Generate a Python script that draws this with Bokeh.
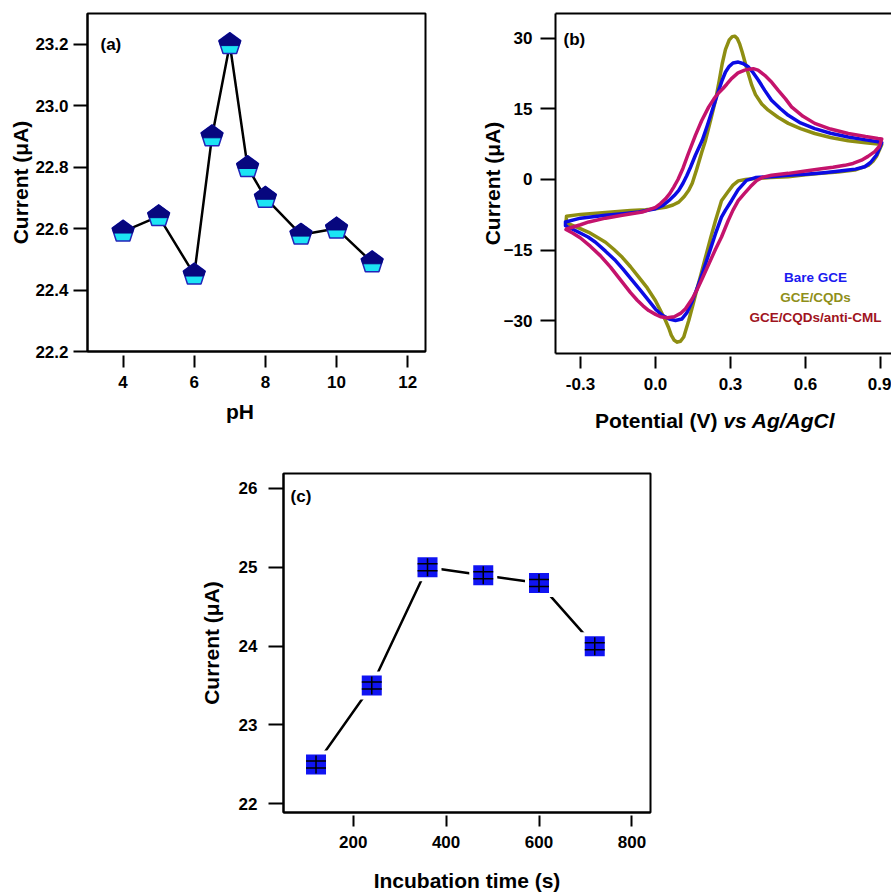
import math

from bokeh.embed import file_html
from bokeh.layouts import column, row
from bokeh.models import (Div, FixedTicker, Label, LinearAxis, PrintfTickFormatter,
                          Range1d, Spacer)
from bokeh.plotting import figure
from bokeh.resources import INLINE

FONT = "Liberation Sans"

# ---------------- (a) current vs pH ----------------
ph = [4, 5, 6, 6.5, 7, 7.5, 8, 9, 10, 11]
ph_current = [22.59, 22.64, 22.45, 22.90, 23.20, 22.80, 22.70, 22.58, 22.60, 22.49]
ph_ticks = [4, 6, 8, 10, 12]
ph_current_ticks = [22.2, 22.4, 22.6, 22.8, 23.0, 23.2]

# ---------------- (b) cyclic voltammograms ----------------
# forward (anodic) and reverse (cathodic) sweeps, potential in V, current in uA
bare_fwd_v = [-0.36, -0.30, -0.20, -0.12, -0.067, 0.0, 0.03, 0.053, 0.075, 0.093, 0.11, 0.125,
              0.14, 0.16, 0.187, 0.207, 0.227, 0.247, 0.267, 0.28, 0.295, 0.31, 0.331, 0.35,
              0.371, 0.39, 0.411, 0.437, 0.464, 0.50, 0.531, 0.58, 0.637, 0.70, 0.771, 0.84,
              0.89, 0.905]
bare_fwd_i = [-9.0, -8.2, -7.6, -7.2, -6.9, -6.2, -5.5, -4.5, -3.4, -2.3, -0.8, 0.8,
              2.6, 5.2, 8.3, 11.4, 14.7, 18.0, 21.1, 22.8, 24.0, 24.7, 24.9, 24.6,
              23.9, 22.7, 21.1, 18.9, 16.8, 15.0, 13.6, 12.0, 10.8, 9.8, 9.0, 8.4,
              8.0, 7.8]
bare_rev_v = [0.895, 0.884, 0.86, 0.837, 0.80, 0.771, 0.72, 0.664, 0.60, 0.531, 0.46, 0.40,
              0.364, 0.33, 0.304, 0.28, 0.264, 0.24, 0.215, 0.19, 0.167, 0.147, 0.125, 0.105,
              0.08, 0.055, 0.027, 0.0, -0.027, -0.06, -0.093, -0.13, -0.16, -0.20, -0.24,
              -0.27, -0.307, -0.36]
bare_rev_i = [6.5, 5.2, 3.6, 2.7, 2.2, 2.0, 1.7, 1.4, 1.1, 0.9, 0.6, 0.4,
              -0.2, -2.2, -4.5, -6.5, -8.0, -11.5, -15.5, -19.5, -23.0, -25.8, -28.3, -29.6,
              -29.9, -29.6, -28.8, -27.5, -25.7, -23.5, -21.4, -19.0, -17.2, -15.2, -13.3,
              -12.2, -11.2, -9.8]

cqd_fwd_v = [-0.356, -0.30, -0.20, -0.10, -0.04, 0.0, 0.04, 0.07, 0.093, 0.115, 0.133, 0.147,
             0.165, 0.185, 0.20, 0.22, 0.24, 0.255, 0.267, 0.28, 0.295, 0.307, 0.317, 0.327,
             0.337, 0.347, 0.36, 0.371, 0.385, 0.40, 0.425, 0.451, 0.49, 0.531, 0.58, 0.637,
             0.70, 0.771, 0.84, 0.89, 0.905]
cqd_fwd_i = [-7.8, -7.4, -7.0, -6.6, -6.4, -6.2, -5.9, -5.4, -4.8, -3.6, -2.3, -0.8,
             2.2, 5.8, 8.3, 12.5, 16.8, 21.0, 24.6, 27.6, 29.6, 30.3, 30.4, 29.9,
             28.7, 27.0, 24.5, 22.5, 20.0, 18.0, 16.0, 14.7, 13.2, 11.9, 10.8, 9.75,
             8.9, 8.2, 7.8, 7.5, 7.4]
cqd_rev_v = [0.895, 0.885, 0.87, 0.851, 0.82, 0.797, 0.73, 0.664, 0.60, 0.531, 0.46, 0.40,
             0.36, 0.331, 0.31, 0.29, 0.264, 0.24, 0.22, 0.20, 0.18, 0.167, 0.15, 0.133,
             0.122, 0.113, 0.10, 0.087, 0.075, 0.063, 0.053, 0.04, 0.02, 0.0, -0.033, -0.067,
             -0.10, -0.133, -0.167, -0.20, -0.235, -0.267, -0.31, -0.347, -0.358]
cqd_rev_i = [6.2, 5.0, 3.9, 3.0, 2.4, 2.0, 1.6, 1.3, 1.0, 0.6, 0.4, 0.2,
             0.0, -0.3, -1.2, -2.6, -4.5, -8.7, -12.5, -16.5, -20.5, -23.0, -26.5, -29.9,
             -31.8, -33.4, -34.3, -34.5, -34.1, -33.0, -31.5, -29.9, -27.8, -25.7, -23.0, -20.7,
             -18.5, -16.5, -14.8, -13.3, -12.2, -11.2, -10.2, -9.4, -9.1]

cml_fwd_v = [-0.356, -0.30, -0.267, -0.20, -0.133, -0.053, 0.0, 0.02, 0.04, 0.057, 0.073, 0.09,
             0.11, 0.13, 0.16, 0.185, 0.213, 0.235, 0.253, 0.27, 0.285, 0.304, 0.33, 0.357,
             0.375, 0.391, 0.41, 0.437, 0.465, 0.491, 0.52, 0.544, 0.59, 0.637, 0.70, 0.771,
             0.84, 0.89, 0.905]
cml_fwd_i = [-10.5, -9.6, -9.0, -8.2, -7.6, -6.9, -5.9, -5.1, -4.1, -3.0, -1.6, 0.0,
             2.4, 5.3, 9.4, 12.5, 15.4, 17.2, 18.4, 19.3, 20.2, 21.4, 22.6, 23.2,
             23.4, 23.5, 23.2, 22.1, 20.6, 18.9, 17.1, 15.4, 13.4, 11.9, 10.7, 9.75,
             9.1, 8.7, 8.6]
cml_rev_v = [0.895, 0.877, 0.85, 0.824, 0.79, 0.757, 0.71, 0.664, 0.60, 0.531, 0.464, 0.43,
             0.405, 0.38, 0.355, 0.331, 0.31, 0.291, 0.264, 0.24, 0.21, 0.187, 0.167, 0.147,
             0.12, 0.10, 0.075, 0.047, 0.02, 0.0, -0.027, -0.05, -0.073, -0.10, -0.14, -0.18,
             -0.22, -0.26, -0.30, -0.33, -0.358]
cml_rev_i = [7.0, 5.9, 4.9, 4.1, 3.4, 3.0, 2.6, 2.3, 1.8, 1.3, 0.9, 0.5,
             -0.2, -1.5, -3.0, -4.5, -6.5, -8.7, -12.2, -14.8, -18.3, -21.0, -23.3, -25.3,
             -27.4, -28.4, -29.1, -29.3, -29.1, -28.6, -27.8, -26.8, -25.6, -24.0, -21.3, -18.6,
             -16.2, -14.2, -12.4, -11.4, -10.6]

cv_names = ["Bare GCE", "GCE/CQDs", "GCE/CQDs/anti-CML"]
potential_ticks = [-0.3, 0.0, 0.3, 0.6, 0.9]
cv_current_ticks = [-30, -15, 0, 15, 30]

# ---------------- (c) current vs incubation time ----------------
inc_time = [120, 240, 360, 480, 600, 720]
inc_current = [22.5, 23.5, 25.0, 24.9, 24.8, 24.0]
time_ticks = [200, 400, 600, 800]
inc_current_ticks = [22, 23, 24, 25, 26]


def style_axis(ax, tick_in, tick_out, standoff, ticks, fmt=None, label=None, label_standoff=0):
    ax.ticker = FixedTicker(ticks=ticks)
    if fmt:
        ax.formatter = PrintfTickFormatter(format=fmt)
    ax.major_tick_in = tick_in
    ax.major_tick_out = tick_out
    ax.major_tick_line_width = 2
    ax.major_tick_line_color = "black"
    ax.minor_tick_line_color = None
    ax.axis_line_width = 2
    ax.axis_line_color = "black"
    ax.major_label_text_font = FONT
    ax.major_label_text_font_style = "bold"
    ax.major_label_text_font_size = "17px"
    ax.major_label_text_color = "black"
    ax.major_label_standoff = standoff
    if label:
        ax.axis_label = label
        ax.axis_label_text_font = FONT
        ax.axis_label_text_font_style = "bold"
        ax.axis_label_text_font_size = "21px"
        ax.axis_label_text_color = "black"
        ax.axis_label_standoff = label_standoff


def make_fig(xr, yr, fw, fh, left, right, top, bottom):
    p = figure(x_range=Range1d(*xr), y_range=Range1d(*yr),
               frame_width=fw, frame_height=fh,
               min_border_left=left, min_border_right=right,
               min_border_top=top, min_border_bottom=bottom,
               output_backend="svg", toolbar_location=None,
               background_fill_color="white", border_fill_color="white")
    p.xgrid.visible = False
    p.ygrid.visible = False
    return p


def text(p, x, y, s, size, color="black", align="center"):
    p.add_layout(Label(x=x, y=y, text=s, text_font=FONT, text_font_size=size,
                       text_font_style="bold", text_color=color, text_align=align,
                       text_baseline="middle"))


def title_div(html, width, height, left, top):
    style = (f"font-family:'{FONT}';font-weight:bold;font-size:21px;line-height:24px;"
             f"color:black;padding-left:{left}px;padding-top:{top}px;white-space:nowrap;")
    return Div(text=f'<div style="{style}">{html}</div>', width=width, height=height,
               margin=(0, 0, 0, 0))


# ================= panel (a) =================
AX, AY = (3.0, 12.5), (22.2, 23.3)
AFW, AFH = 338, 338
pa = make_fig(AX, AY, AFW, AFH, 87, 15, 13, 47)
pa.outline_line_color = "black"
pa.outline_line_width = 2
style_axis(pa.xaxis[0], -4, 16, 8, ph_ticks)
style_axis(pa.yaxis[0], 0, 14, 5, ph_current_ticks, "%.1f", "Current (μA)", 0)

pa.line(ph, ph_current, line_color="black", line_width=2.5)

# pentagon symbols: navy cap over a cyan body
sx = AFW / (AX[1] - AX[0])
sy = AFH / (AY[1] - AY[0])
R = 11.5
body = [(math.cos(math.pi / 2 + k * 2 * math.pi / 5), math.sin(math.pi / 2 + k * 2 * math.pi / 5))
        for k in range(5)]
cap = [(0.0, 1.0), (-0.951, 0.309), (-0.812, -0.12), (0.812, -0.12), (0.951, 0.309)]
body_xs = [[x + R * u / sx for u, _ in body] for x in ph]
body_ys = [[y + R * v / sy for _, v in body] for y in ph_current]
cap_xs = [[x + R * u / sx for u, _ in cap] for x in ph]
cap_ys = [[y + R * v / sy for _, v in cap] for y in ph_current]
pa.patches(body_xs, body_ys, fill_color="#1CE4F4", line_color="#2323B8", line_width=1.5)
pa.patches(cap_xs, cap_ys, fill_color="#07077E", line_color="#07077E", line_width=1)

text(pa, 3.365, 23.2, "(a)", "17px", align="left")
title_a = title_div("pH", 440, 42, 226, 2)

# ================= panel (b) =================
BX, BY = (-0.4, 0.944), (-36.9, 35.2)
pb = make_fig(BX, BY, 336, 340, 115, 0, 13, 47)
pb.outline_line_color = None
style_axis(pb.xaxis[0], -3, 15, 9, potential_ticks, "%.1f")
style_axis(pb.yaxis[0], 0, 15, 8, cv_current_ticks, None, "Current (μA)", -3)
top_axis = LinearAxis(ticker=FixedTicker(ticks=[]), axis_line_width=2, axis_line_color="black",
                      major_tick_line_color=None, minor_tick_line_color=None,
                      major_label_text_font_size="0px", major_tick_out=0, major_label_standoff=0)
pb.add_layout(top_axis, "above")

cv_colors = ["#0B0BE4", "#8E8E12", "#C4136C"]
cv_text_colors = ["#1A1AF0", "#8F8F1A", "#A0141E"]
cv_sets = [(cqd_fwd_v, cqd_fwd_i, cqd_rev_v, cqd_rev_i, cv_colors[1]),
           (bare_fwd_v, bare_fwd_i, bare_rev_v, bare_rev_i, cv_colors[0]),
           (cml_fwd_v, cml_fwd_i, cml_rev_v, cml_rev_i, cv_colors[2])]
for fv, fi, rv, ri, col in cv_sets:
    pb.line(fv + rv + fv[:1], fi + ri + fi[:1], line_color=col, line_width=3.5,
            line_join="round", line_cap="round")

for name, col, yy in zip(cv_names, cv_text_colors, [-20.8, -25.0, -29.3]):
    text(pb, 0.64, yy, name, "13.5px", color=col)

text(pb, -0.368, 29.6, "(b)", "17px", align="left")
title_b = title_div("Potential (V) <i>vs Ag/AgCl</i>", 451, 40, 155, 9)

# ================= panel (c) =================
CX, CY = (50, 840), (21.89, 26.19)
CFW, CFH = 367, 339
pc = make_fig(CX, CY, CFW, CFH, 90, 20, 33, 81)
pc.outline_line_color = "black"
pc.outline_line_width = 2
style_axis(pc.xaxis[0], -3, 14, 9, time_ticks, None, "Incubation time (s)", 18)
style_axis(pc.yaxis[0], 0, 15, 11, inc_current_ticks, None, "Current (μA)", 13)

pc.line(inc_time, inc_current, line_color="black", line_width=2.5)
pc.scatter(inc_time, inc_current, marker="square", size=28, fill_color="white", line_color=None)
pc.scatter(inc_time, inc_current, marker="square", size=20, fill_color="#1014F2", line_color=None)
csx = CFW / (CX[1] - CX[0])
csy = CFH / (CY[1] - CY[0])
pc.segment(x0=inc_time, x1=inc_time,
           y0=[c - 9 / csy for c in inc_current], y1=[c + 9 / csy for c in inc_current],
           line_color="black", line_width=1.5)
for d in (-3.5, 3.5):
    pc.segment(x0=[t - 10 / csx for t in inc_time], x1=[t + 10 / csx for t in inc_time],
               y0=[c + d / csy for c in inc_current], y1=[c + d / csy for c in inc_current],
               line_color="black", line_width=1.5)

text(pc, 65.1, 25.892, "(c)", "17px", align="left")

layout = column(row(column(pa, title_a), column(pb, title_b)),
                row(Spacer(width=193, height=453), pc))
open("out.html", "w").write(file_html(layout, INLINE))
